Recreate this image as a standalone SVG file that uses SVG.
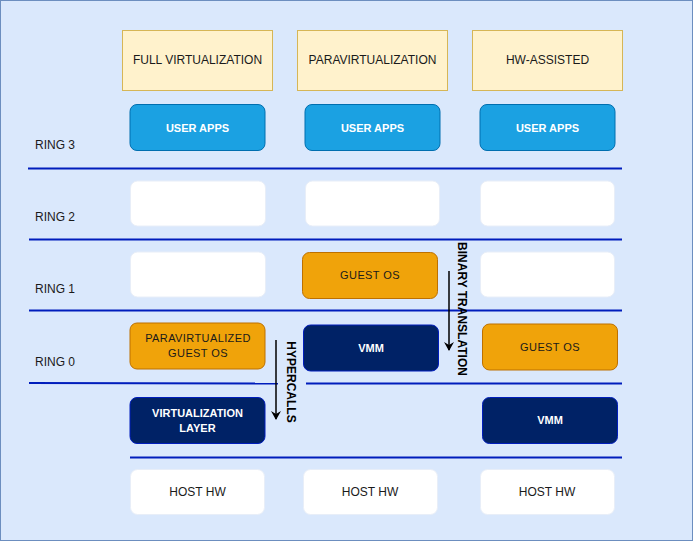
<svg xmlns="http://www.w3.org/2000/svg" width="693" height="541" viewBox="0 0 693 541">
<defs>
<style>
text{font-family:"Liberation Sans",Arial,sans-serif;text-anchor:middle;dominant-baseline:central}
.hdr rect{fill:#fff2cc;stroke:#d6b656;stroke-width:1}
.hdr text{font-size:12px;fill:#1a1a1a}
.app rect{fill:#1ba1e2;stroke:#006eaf;stroke-width:1}
.app text{font-size:11px;font-weight:bold;fill:#ffffff}
.empty rect{fill:#ffffff;stroke:#e8eef8;stroke-width:1}
.os rect{fill:#f0a30a;stroke:#bd7000;stroke-width:1}
.os text{font-size:11px;fill:#1a1a1a;letter-spacing:0.4px}
.navy rect{fill:#002266;stroke:#001dbc;stroke-width:1}
.navy text{font-size:11px;font-weight:bold;fill:#ffffff}
.hw rect{fill:#ffffff;stroke:#e8eef8;stroke-width:1}
.hw text{font-size:12px;fill:#1a1a1a}
.ring{font-size:12px;fill:#1a1a1a;text-anchor:start}
.sep{stroke:#001dbc;stroke-width:2;fill:none}
.arr{stroke:#000;stroke-width:1.5;fill:none}
.lbl{font-size:12px;font-weight:bold;fill:#000}
</style>
<marker id="ah" markerWidth="10" markerHeight="10" refX="8" refY="5" orient="auto" markerUnits="userSpaceOnUse">
<path d="M0,0 L9,5 L0,10 L3,5 Z" fill="#000"/>
</marker>
</defs>
<rect x="0.5" y="0.5" width="692" height="540" fill="#dae8fc" stroke="#6c8ebf"/>

<g id="ring-labels">
<text class="ring" x="35" y="145">RING 3</text>
<text class="ring" x="35" y="217">RING 2</text>
<text class="ring" x="35" y="289">RING 1</text>
<text class="ring" x="35" y="362">RING 0</text>
</g>

<g id="separators">
<line class="sep" x1="28" y1="168.5" x2="622" y2="168.5"/>
<line class="sep" x1="29" y1="239.5" x2="622" y2="239.5"/>
<line class="sep" x1="29" y1="310.5" x2="622" y2="310.5"/>
<line class="sep" x1="29" y1="383" x2="278" y2="383.5"/>
<line class="sep" x1="306" y1="383.5" x2="622" y2="383.5"/>
<line class="sep" x1="130" y1="457.5" x2="622" y2="457.5"/>
</g>

<g id="h-full" class="hdr"><rect x="122.5" y="30.5" width="150" height="60"/><text x="197.5" y="60">FULL VIRTUALIZATION</text></g>
<g id="h-para" class="hdr"><rect x="297.5" y="30.5" width="150" height="60"/><text x="372.5" y="60">PARAVIRTUALIZATION</text></g>
<g id="h-hw" class="hdr"><rect x="472.5" y="30.5" width="150" height="60"/><text x="547.5" y="60">HW-ASSISTED</text></g>

<g id="apps-1" class="app"><rect x="130" y="104.5" width="135" height="46" rx="7"/><text x="197.5" y="127.5">USER APPS</text></g>
<g id="apps-2" class="app"><rect x="305" y="104.5" width="135" height="46" rx="7"/><text x="372.5" y="127.5">USER APPS</text></g>
<g id="apps-3" class="app"><rect x="480" y="104.5" width="135" height="46" rx="7"/><text x="547.5" y="127.5">USER APPS</text></g>

<g id="r2-1" class="empty"><rect x="130.5" y="181" width="135" height="45" rx="7"/></g>
<g id="r2-2" class="empty"><rect x="305.5" y="181" width="134" height="45" rx="7"/></g>
<g id="r2-3" class="empty"><rect x="480.5" y="181" width="134" height="45" rx="7"/></g>

<g id="r1-1" class="empty"><rect x="130.5" y="252" width="135" height="45" rx="7"/></g>
<g id="guest-os-para" class="os"><rect x="302.5" y="252.5" width="135" height="46" rx="7"/><text x="370" y="274.5">GUEST OS</text></g>
<g id="r1-3" class="empty"><rect x="480.5" y="252" width="134" height="45" rx="7"/></g>

<g id="para-guest-os" class="os"><rect x="130" y="323" width="135" height="46" rx="7"/><text x="198" y="338">PARAVIRTUALIZED</text><text x="198" y="353">GUEST OS</text></g>
<g id="vmm-para" class="navy"><rect x="303.5" y="325" width="135" height="46" rx="7"/><text x="371" y="348">VMM</text></g>
<g id="guest-os-hw" class="os"><rect x="482.5" y="324" width="135" height="46" rx="7"/><text x="550" y="346.5">GUEST OS</text></g>

<g id="virt-layer" class="navy"><rect x="130" y="397.5" width="135" height="46" rx="7"/><text x="197.5" y="413">VIRTUALIZATION</text><text x="197.5" y="428">LAYER</text></g>
<g id="vmm-hw" class="navy"><rect x="482.5" y="397.5" width="135" height="46" rx="7"/><text x="550" y="420">VMM</text></g>

<g id="hw-1" class="hw"><rect x="130.5" y="469.5" width="134" height="45" rx="7"/><text x="197.5" y="492">HOST HW</text></g>
<g id="hw-2" class="hw"><rect x="303.5" y="469.5" width="134" height="45" rx="7"/><text x="370" y="492">HOST HW</text></g>
<g id="hw-3" class="hw"><rect x="480.5" y="469.5" width="134" height="45" rx="7"/><text x="547" y="492">HOST HW</text></g>

<g id="connectors">
<line class="arr" x1="276" y1="340" x2="276" y2="419" marker-end="url(#ah)"/>
<line class="arr" x1="449" y1="271" x2="449" y2="350" marker-end="url(#ah)"/>
</g>
<g id="arrow-labels">
<text class="lbl" transform="translate(291,382) rotate(90)">HYPERCALLS</text>
<text class="lbl" transform="translate(461.5,309) rotate(90)">BINARY TRANSLATION</text>
</g>
</svg>
